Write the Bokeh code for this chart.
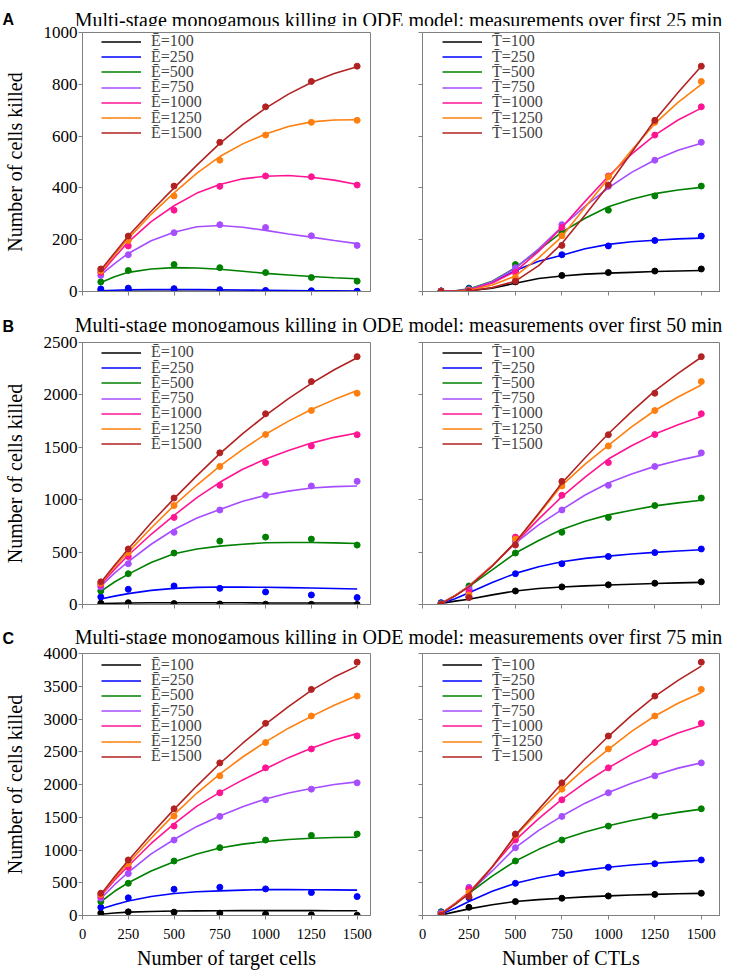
from bokeh.plotting import figure
from bokeh.layouts import column, row
from bokeh.models import Label, Legend, LegendItem, FixedTicker, Range1d
from bokeh.embed import file_html
from bokeh.resources import INLINE

# ---------------- data ----------------
COUNTS = [100, 250, 500, 750, 1000, 1250, 1500]          # measured E / T values
X_FIT = [100, 175, 250, 375, 500, 625, 750, 875, 1000, 1125, 1250, 1375, 1500]
X_TICKS = [0, 250, 500, 750, 1000, 1250, 1500]

E_LABELS = ["Ē=100", "Ē=250", "Ē=500", "Ē=750", "Ē=1000", "Ē=1250", "Ē=1500"]
T_LABELS = ["T\u0304=100", "T\u0304=250", "T\u0304=500", "T\u0304=750",
            "T\u0304=1000", "T\u0304=1250", "T\u0304=1500"]
COLORS = ["#000000", "#0000ff", "#008000", "#a64dff", "#ff1493", "#ff7f0e", "#b22222"]

TITLES = ["Multi-stage monogamous killing in ODE model: measurements over first 25 min",
          "Multi-stage monogamous killing in ODE model: measurements over first 50 min",
          "Multi-stage monogamous killing in ODE model: measurements over first 75 min"]
LETTERS = ["A", "B", "C"]

# killed cells, rows: E = 100..1500, columns: T = 100..1500
KILLED_25 = [
    [2, 2, 1, 1, 1, 0, 0],
    [10, 13, 11, 7, 4, 3, 1],
    [37, 81, 104, 92, 73, 54, 40],
    [62, 142, 227, 258, 247, 215, 178],
    [73, 176, 314, 406, 446, 443, 411],
    [79, 197, 369, 507, 604, 653, 661],
    [87, 214, 407, 576, 713, 811, 870],
]
KILLED_50 = [
    [12, 17, 9, 5, 3, 2, 1],
    [72, 145, 177, 154, 120, 91, 66],
    [129, 294, 491, 605, 643, 624, 567],
    [168, 389, 689, 902, 1042, 1131, 1175],
    [188, 458, 831, 1137, 1354, 1513, 1620],
    [203, 495, 944, 1317, 1622, 1851, 2016],
    [216, 530, 1016, 1447, 1820, 2127, 2365],
]
KILLED_75 = [
    [36, 56, 51, 36, 20, 10, 5],
    [125, 270, 401, 431, 406, 350, 289],
    [213, 492, 832, 1036, 1152, 1223, 1244],
    [264, 640, 1152, 1513, 1766, 1929, 2025],
    [298, 736, 1365, 1873, 2254, 2543, 2741],
    [322, 790, 1518, 2132, 2640, 3046, 3350],
    [340, 848, 1629, 2330, 2934, 3452, 3868],
]

# model fits, left panels (one curve per E, over target cells)
FIT25_BY_E = [
    [1, 1, 1, 1, 1, 1, 1, 1, 1, 1, 1, 0, 0],
    [3, 5, 7, 8, 8, 8, 7, 6, 5, 4, 3, 3, 2],
    [35, 57, 74, 87, 92, 91, 86, 78, 70, 64, 58, 53, 49],
    [64, 108, 147, 196, 229, 250, 255, 248, 236, 222, 210, 197, 185],
    [70, 132, 191, 270, 331, 380, 413, 435, 445, 448, 441, 430, 413],
    [77, 142, 204, 298, 381, 457, 521, 570, 608, 637, 655, 662, 663],
    [83, 149, 214, 310, 400, 488, 572, 644, 708, 762, 807, 842, 868],
]
FIT50_BY_E = [
    [8, 12, 15, 16, 16, 16, 16, 16, 15, 15, 15, 14, 14],
    [53, 80, 104, 135, 154, 163, 167, 166, 164, 161, 158, 153, 148],
    [125, 215, 290, 400, 485, 530, 557, 575, 589, 592, 592, 588, 582],
    [175, 300, 410, 575, 716, 825, 906, 985, 1042, 1082, 1112, 1125, 1131],
    [190, 335, 470, 670, 850, 1020, 1166, 1290, 1389, 1470, 1540, 1595, 1636],
    [200, 360, 500, 730, 945, 1140, 1320, 1480, 1625, 1750, 1860, 1955, 2041],
    [210, 375, 530, 780, 1010, 1230, 1440, 1630, 1805, 1965, 2110, 2240, 2355],
]
FIT75_BY_E = [
    [20, 38, 52, 62, 68, 71, 73, 74, 75, 75, 74, 73, 72],
    [98, 165, 222, 290, 335, 362, 376, 388, 395, 396, 394, 391, 388],
    [210, 370, 500, 680, 820, 940, 1030, 1090, 1130, 1160, 1180, 1190, 1195],
    [260, 470, 660, 940, 1160, 1360, 1520, 1660, 1780, 1870, 1940, 2000, 2040],
    [300, 540, 755, 1100, 1400, 1670, 1880, 2070, 2240, 2410, 2553, 2680, 2777],
    [310, 570, 800, 1180, 1540, 1870, 2160, 2420, 2650, 2860, 3040, 3210, 3360],
    [320, 590, 840, 1240, 1620, 1980, 2320, 2630, 2920, 3190, 3437, 3640, 3807],
]
# model fits, right panels (one curve per T, over CTLs)
FIT25_BY_T = [
    [0, 1, 3, 13, 32, 50, 60, 67, 71, 74, 77, 79, 81],
    [0, 2, 8, 35, 81, 117, 140, 165, 182, 192, 198, 203, 206],
    [0, 3, 10, 40, 92, 160, 229, 283, 327, 356, 378, 392, 402],
    [0, 2, 8, 38, 90, 165, 250, 330, 400, 460, 508, 545, 572],
    [0, 2, 6, 33, 78, 155, 248, 348, 445, 530, 604, 662, 708],
    [0, 1, 4, 25, 60, 130, 212, 325, 436, 545, 648, 730, 800],
    [0, 1, 2, 15, 40, 100, 185, 295, 410, 537, 661, 768, 870],
]
FIT50_BY_T = [
    [10, 32, 50, 92, 129, 152, 167, 178, 186, 193, 200, 206, 211],
    [10, 55, 112, 210, 297, 360, 408, 440, 462, 482, 497, 510, 522],
    [10, 85, 170, 330, 491, 610, 716, 795, 855, 900, 941, 970, 995],
    [10, 85, 175, 370, 585, 760, 905, 1045, 1160, 1245, 1318, 1375, 1423],
    [10, 85, 175, 370, 590, 815, 1030, 1215, 1388, 1515, 1626, 1715, 1794],
    [10, 85, 175, 370, 595, 860, 1137, 1340, 1518, 1695, 1851, 1980, 2095],
    [8, 80, 170, 365, 595, 870, 1160, 1400, 1629, 1840, 2038, 2205, 2359],
]
FIT75_BY_T = [
    [8, 55, 101, 165, 213, 243, 264, 284, 299, 312, 323, 331, 338],
    [20, 110, 215, 370, 492, 575, 640, 693, 736, 770, 797, 822, 843],
    [30, 170, 340, 600, 832, 1010, 1162, 1275, 1370, 1450, 1518, 1575, 1624],
    [30, 180, 350, 680, 1036, 1300, 1518, 1715, 1878, 2020, 2142, 2250, 2330],
    [30, 185, 355, 740, 1152, 1480, 1772, 2030, 2254, 2460, 2640, 2785, 2900],
    [30, 180, 340, 740, 1213, 1580, 1929, 2250, 2538, 2810, 3046, 3240, 3401],
    [25, 170, 330, 740, 1228, 1620, 2020, 2390, 2736, 3055, 3345, 3590, 3807],
]

Y_MAX = [1000, 2500, 4000]
Y_TICKS = [[0, 200, 400, 600, 800, 1000],
           [0, 500, 1000, 1500, 2000, 2500],
           [0, 500, 1000, 1500, 2000, 2500, 3000, 3500, 4000]]

SERIF = "Liberation Serif"
GREY = "#808080"
TOTAL_W = 730
# layout (px)
TITLE_H = [26, 31, 30]
TITLE_Y = [7, 8, 8]          # title baseline, px above strip bottom
LETTER_Y = [7, 6.5, 6.5]
FRAME_HS = [259, 262, 262]
BORDER_TOP = [6, 10, 9]
BORDER_BOTTOM = [10, 10, 58]
LEG_FIRST = [9.3, 10.3, 11.7]   # centre of first legend row below frame top
LEG_PITCH = 15.25
LEG_ROW_H = 18.1


def panel(row_i, right_side):
    killed = [KILLED_25, KILLED_50, KILLED_75][row_i]
    if right_side:
        fits = [FIT25_BY_T, FIT50_BY_T, FIT75_BY_T][row_i]
        dots = [[killed[e][t] for e in range(7)] for t in range(7)]
        labels = T_LABELS
        width, bl, br, xmax, lx = 350, 42, 11, 1598, 20
        xlabel = "Number of CTLs"
    else:
        fits = [FIT25_BY_E, FIT50_BY_E, FIT75_BY_E][row_i]
        dots = killed
        labels = E_LABELS
        width, bl, br, xmax, lx = 380, 78, 10, 1573, 19
        xlabel = "Number of target cells"
    fh = FRAME_HS[row_i]
    bt, bb = BORDER_TOP[row_i], BORDER_BOTTOM[row_i]
    p = figure(width=width, height=bt + fh + bb, x_range=Range1d(0, xmax),
               y_range=Range1d(0, Y_MAX[row_i]), output_backend="svg",
               toolbar_location=None, min_border_left=bl, min_border_right=br,
               min_border_top=bt, min_border_bottom=bb)
    p.grid.visible = False
    p.outline_line_color = GREY
    p.outline_line_width = 1
    p.xaxis.ticker = FixedTicker(ticks=X_TICKS)
    p.yaxis.ticker = FixedTicker(ticks=Y_TICKS[row_i])
    for ax in (p.xaxis[0], p.yaxis[0]):
        ax.axis_line_color = GREY
        ax.major_tick_line_color = GREY
        ax.major_tick_out = 4
        ax.major_tick_in = 0
        ax.minor_tick_line_color = None
        ax.major_label_text_font = SERIF
        ax.axis_label_text_font = SERIF
        ax.axis_label_text_font_style = "normal"
        ax.axis_label_text_font_size = "20px"
        ax.axis_label_text_color = "black"
        ax.major_label_text_color = "black"
    # x tick labels only on bottom row, y tick labels only on left column
    if row_i == 2:
        p.xaxis.major_label_text_font_size = "14.5px"
        p.xaxis.major_label_standoff = 9
        p.xaxis.axis_label = xlabel
        p.xaxis.axis_label_standoff = 5
    else:
        p.xaxis.major_label_text_color = None
        p.xaxis.major_label_text_font_size = "1px"
        p.xaxis.major_label_standoff = 0
    if not right_side:
        p.yaxis.major_label_text_font_size = "17px"
        p.yaxis.major_label_standoff = 1
        p.yaxis.axis_label = "Number of cells killed"
        p.yaxis.axis_label_standoff = 15
    else:
        p.yaxis.major_label_text_color = None
        p.yaxis.major_label_text_font_size = "1px"
        p.yaxis.major_label_standoff = 0

    for i in range(7):
        r = p.line(X_FIT, fits[i], line_color=COLORS[i], line_width=1.6)
        p.scatter(COUNTS, dots[i], size=6, color=COLORS[i])
        centre = LEG_FIRST[row_i] + LEG_PITCH * i
        leg = Legend(items=[LegendItem(label=labels[i], renderers=[r])],
                     location=(lx, fh - centre - LEG_ROW_H / 2),
                     padding=0, margin=0, spacing=0,
                     glyph_width=40, glyph_height=15, label_height=15, label_standoff=10,
                     label_text_font=SERIF, label_text_font_size="16px",
                     border_line_color=None, background_fill_alpha=0)
        p.add_layout(leg)
    return p


def title_fig(row_i):
    h = TITLE_H[row_i]
    t = figure(width=TOTAL_W, height=h, x_range=Range1d(0, 1), y_range=Range1d(0, 1),
               x_axis_type=None, y_axis_type=None, output_backend="svg",
               toolbar_location=None, min_border=0, outline_line_color=None)
    t.grid.visible = False
    t.add_layout(Label(x=398, y=TITLE_Y[row_i], x_units="screen", y_units="screen",
                       text=TITLES[row_i], text_align="center", text_baseline="alphabetic",
                       text_font=SERIF, text_font_size="20px", text_color="black"))
    t.add_layout(Label(x=2, y=LETTER_Y[row_i], x_units="screen", y_units="screen",
                       text=LETTERS[row_i], text_align="left", text_baseline="alphabetic",
                       text_font="Liberation Sans", text_font_style="bold",
                       text_font_size="16px", text_color="black"))
    return t


parts = []
for r_i in range(3):
    parts.append(title_fig(r_i))
    parts.append(row(panel(r_i, False), panel(r_i, True)))

layout = column(*parts)
open("out.html", "w").write(file_html(layout, INLINE))
